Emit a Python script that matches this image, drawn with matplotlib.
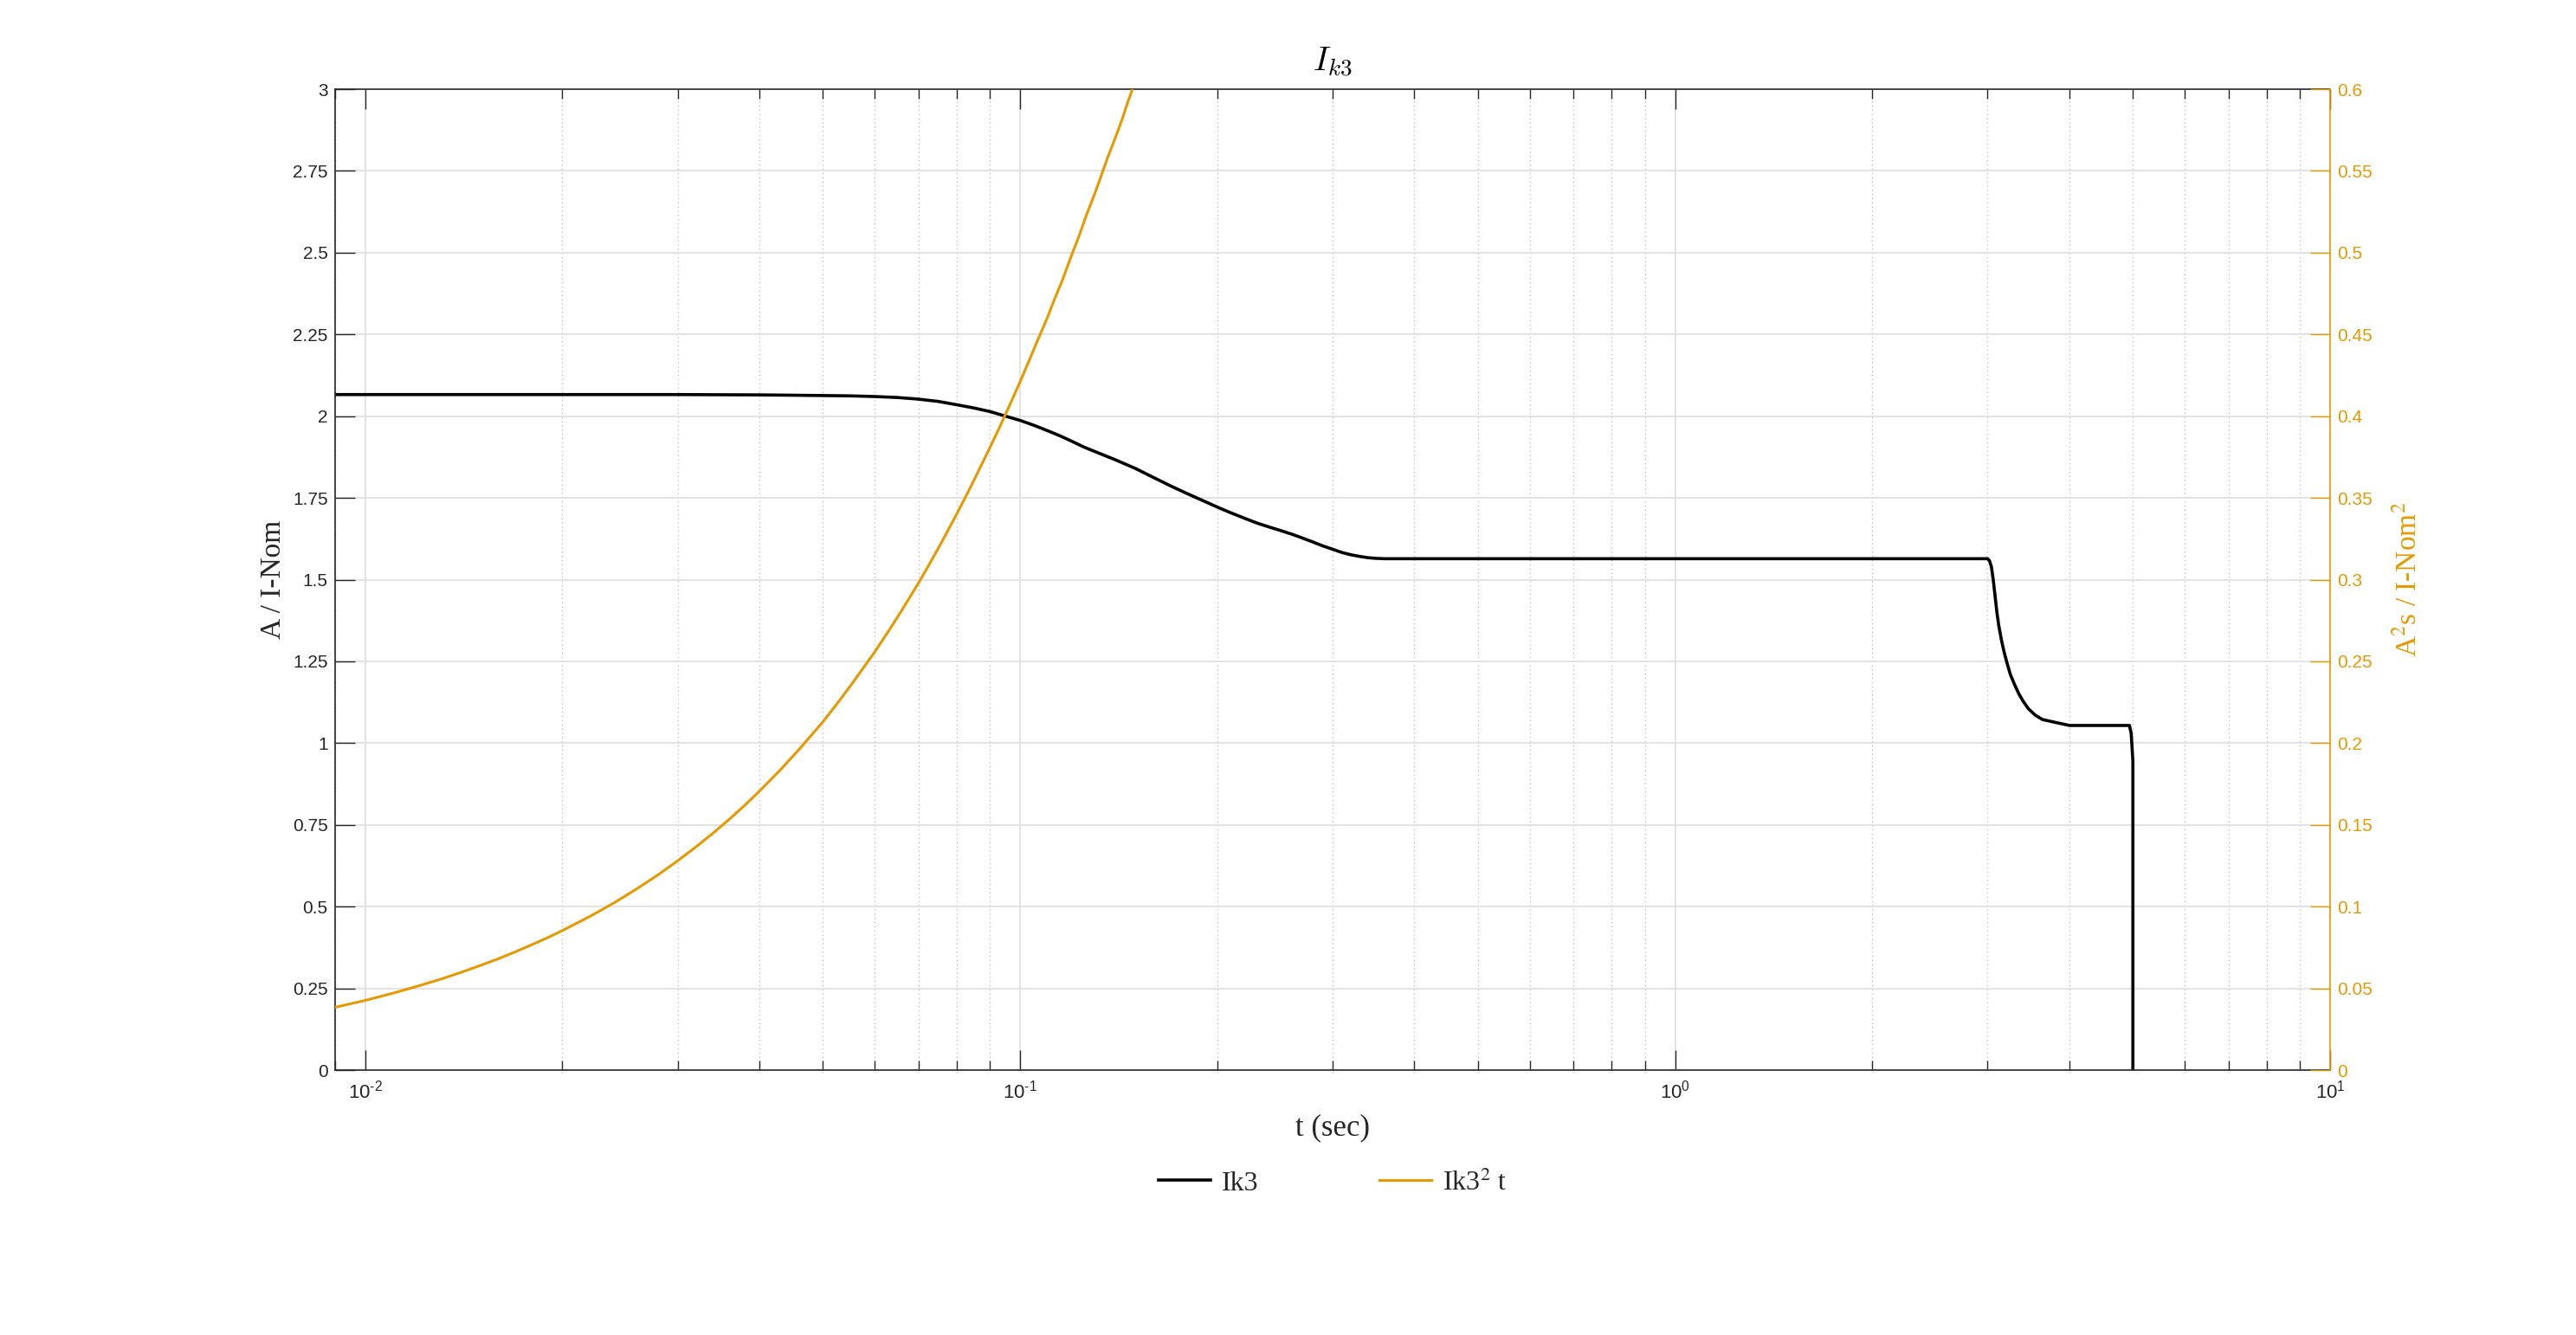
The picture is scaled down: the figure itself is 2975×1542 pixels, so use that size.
import matplotlib.pyplot as plt
from matplotlib.ticker import FixedLocator, LogLocator, NullFormatter

# data
t_ik3 = [0.009, 0.02, 0.03, 0.04, 0.045, 0.05, 0.055, 0.06, 0.065, 0.07, 0.075, 0.08,
         0.085, 0.09, 0.095, 0.1, 0.105, 0.11, 0.115, 0.12, 0.125, 0.13, 0.14, 0.15,
         0.16, 0.17, 0.18, 0.19, 0.2, 0.21, 0.22, 0.23, 0.24, 0.25, 0.26, 0.27, 0.28,
         0.29, 0.3, 0.31, 0.32, 0.33, 0.34, 0.35, 0.36, 1.0, 3.0, 3.02, 3.04, 3.06,
         3.08, 3.1, 3.12, 3.15, 3.18, 3.21, 3.25, 3.3, 3.35, 3.4, 3.463, 3.55, 3.64,
         3.756, 4.0, 4.94, 4.97, 5.0, 5.0]
ik3 = [2.066, 2.066, 2.066, 2.065, 2.064, 2.063, 2.062, 2.06, 2.057, 2.052, 2.045, 2.035,
       2.025, 2.014, 2.0, 1.987, 1.972, 1.956, 1.94, 1.923, 1.906, 1.892, 1.866, 1.84,
       1.812, 1.786, 1.763, 1.742, 1.722, 1.704, 1.688, 1.673, 1.661, 1.65, 1.639, 1.627, 1.615,
       1.603, 1.593, 1.583, 1.576, 1.571, 1.567, 1.565, 1.564, 1.564, 1.564, 1.558, 1.54, 1.5,
       1.45, 1.4, 1.36, 1.315, 1.278, 1.247, 1.21, 1.178, 1.15, 1.128, 1.105, 1.085, 1.072,
       1.066, 1.054, 1.054, 1.03, 0.945, 0.0]

t_i2t = [0.009, 0.01, 0.011, 0.012, 0.013, 0.014, 0.015, 0.016, 0.017, 0.018, 0.019,
         0.02, 0.022, 0.024, 0.026, 0.028, 0.03, 0.032, 0.034, 0.036, 0.038, 0.04,
         0.043, 0.046, 0.05, 0.053, 0.056, 0.06, 0.063, 0.066, 0.07, 0.073, 0.076,
         0.08, 0.083, 0.086, 0.09, 0.093, 0.096, 0.1, 0.103, 0.106, 0.11, 0.113,
         0.116, 0.12, 0.123, 0.126, 0.13, 0.133, 0.136, 0.14, 0.143, 0.146, 0.15, 0.155]
i2t = [0.0384, 0.0426, 0.0469, 0.0512, 0.0554, 0.0597, 0.064, 0.0682, 0.0725, 0.0768, 0.081,
       0.0853, 0.0938, 0.1023, 0.1109, 0.1194, 0.128, 0.1365, 0.145, 0.1535, 0.162, 0.1706,
       0.1834, 0.1962, 0.213, 0.226, 0.239, 0.2558, 0.2686, 0.2813, 0.298, 0.3107, 0.3233,
       0.340, 0.3524, 0.3648, 0.381, 0.393, 0.405, 0.421, 0.433, 0.445, 0.460, 0.472,
       0.483, 0.499, 0.510, 0.522, 0.536, 0.547, 0.558, 0.571, 0.581, 0.592, 0.605, 0.622]

left_ticks = [0, 0.25, 0.5, 0.75, 1, 1.25, 1.5, 1.75, 2, 2.25, 2.5, 2.75, 3]
left_labels = ['0', '0.25', '0.5', '0.75', '1', '1.25', '1.5', '1.75', '2', '2.25', '2.5', '2.75', '3']
right_ticks = [0, 0.05, 0.1, 0.15, 0.2, 0.25, 0.3, 0.35, 0.4, 0.45, 0.5, 0.55, 0.6]
right_labels = ['0', '0.05', '0.1', '0.15', '0.2', '0.25', '0.3', '0.35', '0.4', '0.45', '0.5', '0.55', '0.6']
x_ticks = [0.01, 0.1, 1, 10]
x_labels = [r'$10^{\text{-}2}$', r'$10^{\text{-}1}$', r'$10^{0}$', r'$10^{1}$']

orange = '#E69900'
dark = '#262626'
serif = 'Liberation Serif'

plt.rcParams['font.family'] = ['Liberation Sans', 'DejaVu Sans']
plt.rcParams['mathtext.fontset'] = 'custom'
plt.rcParams['mathtext.rm'] = 'Liberation Sans'
plt.rcParams['mathtext.it'] = 'Liberation Sans:italic'

fig = plt.figure(figsize=(14.875, 7.71), dpi=200)
ax = fig.add_axes([0.13008, 0.19844, 0.77445, 0.73476])
ax2 = ax.twinx()

l1, = ax.plot(t_ik3, ik3, color='black', lw=1.3, label='Ik3')
l2, = ax2.plot(t_i2t, i2t, color=orange, lw=1.1, label='Ik3$^2$ t')

ax.set_xscale('log')
ax.set_xlim(0.009, 10)
ax.set_ylim(0, 3)
ax2.set_ylim(0, 0.6)

ax.set_yticks(left_ticks)
ax.set_yticklabels(left_labels)
ax2.set_yticks(right_ticks)
ax2.set_yticklabels(right_labels)
ax.xaxis.set_major_locator(FixedLocator(x_ticks))
ax.set_xticklabels(x_labels)
ax.xaxis.set_minor_locator(LogLocator(base=10, subs=range(2, 10)))
ax.xaxis.set_minor_formatter(NullFormatter())

# grid like matlab: solid majors, dotted minors
ax.grid(True, which='major', axis='both', color='#dedede', lw=0.6, ls='-')
ax.grid(True, which='minor', axis='x', color='#c4c4c4', lw=0.5, ls=(0, (1, 2.5)))
ax.set_axisbelow(True)

ax.tick_params(axis='both', which='major', direction='in', length=8.3, width=0.5,
               colors=dark, labelsize=7.5, top=True, right=False, pad=3)
ax.tick_params(axis='x', which='minor', direction='in', length=4, width=0.5,
               colors=dark, top=True)
ax.tick_params(axis='x', which='major', labelsize=8, pad=4)
ax2.tick_params(axis='y', direction='in', length=8.3, width=0.5,
                colors=orange, labelsize=7.5, pad=3)

for side in ['left', 'bottom', 'top']:
    ax.spines[side].set_color(dark)
    ax.spines[side].set_linewidth(0.6)
ax.spines['right'].set_visible(False)
for side in ['left', 'bottom', 'top']:
    ax2.spines[side].set_visible(False)
ax2.spines['right'].set_color(orange)
ax2.spines['right'].set_linewidth(0.6)

ax.set_title(r'$I_{k3}$', fontsize=14, math_fontfamily='cm', pad=7.5)
ax.set_xlabel('t (sec)', family=serif, fontsize=12.5, color=dark, va='center')
ax.xaxis.set_label_coords(0.5, -0.059)
ax.set_ylabel('A / I-Nom', family=serif, fontsize=12, color=dark, va='center')
ax.yaxis.set_label_coords(-0.031, 0.5)
ax2.set_ylabel('A$^2$s / I-Nom$^2$', family=serif, fontsize=12, color=orange,
               va='center', math_fontfamily='stix')
ax2.yaxis.set_label_coords(1.039, 0.5)

leg = ax.legend([l1, l2], ['Ik3', 'Ik3$^2$ t'], loc='center', bbox_to_anchor=(0.5, -0.115),
                ncol=2, frameon=False, handlelength=1.9, handletextpad=0.4,
                columnspacing=4.35, prop={'family': serif, 'size': 11.5})
for txt in leg.get_texts():
    txt.set_math_fontfamily('stix')
    txt.set_color(dark)

fig.savefig('out.png', dpi=200)
